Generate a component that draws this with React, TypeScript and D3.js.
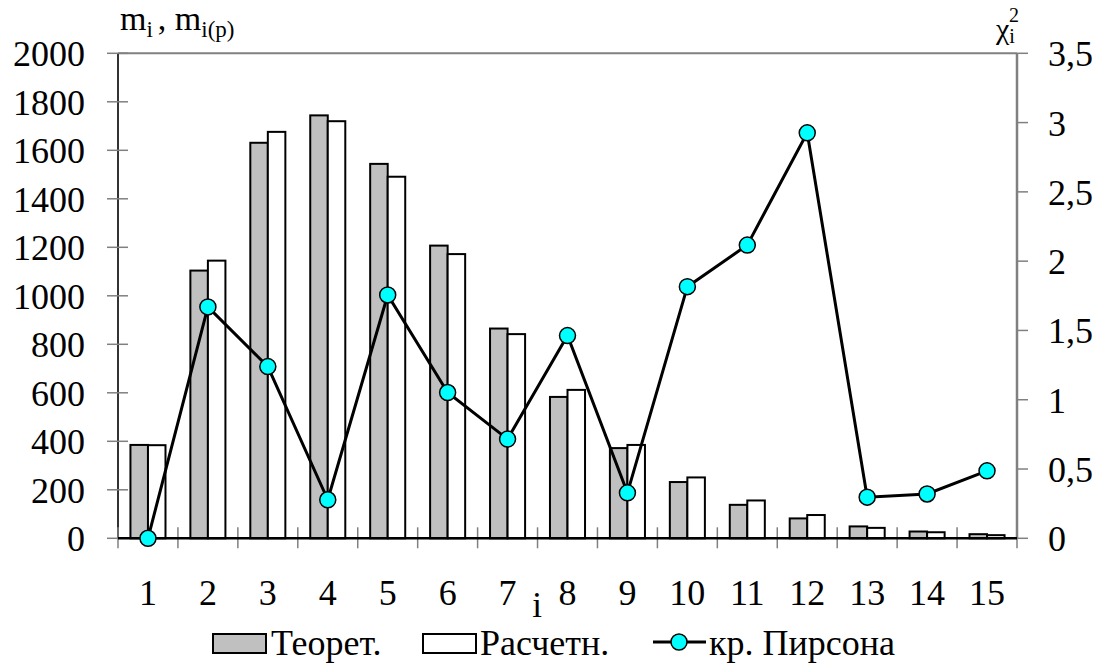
import * as d3 from "d3";

const CATEGORIES = ["1", "2", "3", "4", "5", "6", "7", "8", "9", "10", "11", "12", "13", "14", "15"];
const THEORET = [385, 1104, 1631, 1744, 1544, 1207, 865, 583, 372, 232, 138, 82, 49, 28, 17];
const RASCHET = [384, 1145, 1676, 1720, 1491, 1172, 842, 612, 385, 251, 156, 96, 43, 25, 13];
const PEARSON = [0, 1.67, 1.239, 0.278, 1.756, 1.052, 0.716, 1.463, 0.328, 1.816, 2.116, 2.926, 0.297, 0.32, 0.487];
const LEFT_TICKS = [0, 200, 400, 600, 800, 1000, 1200, 1400, 1600, 1800, 2000];
const RIGHT_TICKS = [0, 0.5, 1, 1.5, 2, 2.5, 3, 3.5];

const W = 1106, H = 668;
const FONT = "Liberation Serif, DejaVu Serif, serif";
const M = { left: 118, right: 1017, top: 53.3, bottom: 538.3 };

export default function App() {
  const x = d3.scaleBand<string>().domain(CATEGORIES).range([M.left, M.right]).padding(0);
  const sub = d3.scaleBand<string>().domain(["t", "r"]).range([0, x.bandwidth()]).paddingInner(0).paddingOuter(0.71);
  const yL = d3.scaleLinear().domain([0, 2000]).range([M.bottom, M.top]);
  const yR = d3.scaleLinear().domain([0, 3.5]).range([M.bottom, M.top]);
  const cx = (c: string) => (x(c) ?? 0) + x.bandwidth() / 2;
  const line = d3.line<number>().x((_d, i) => cx(CATEGORIES[i])).y((d) => yR(d));
  const fmtR = (v: number) => String(v).replace(".", ",");
  const bounds = [...CATEGORIES.map((c) => x(c) ?? 0), M.right];
  const txt = { fontFamily: FONT, fill: "#000" } as const;

  return (
    <svg width={W} height={H} viewBox={`0 0 ${W} ${H}`} style={{ position: "absolute", left: 0, top: 0, background: "#fff", fontFamily: FONT }}>
      {/* frame */}
      <line x1={M.left} x2={M.right} y1={M.top} y2={M.top} stroke="#808080" strokeWidth={2} />
      <line x1={M.right} x2={M.right} y1={M.top} y2={M.bottom} stroke="#808080" strokeWidth={2.5} />
      <line x1={M.left} x2={M.left} y1={M.top} y2={M.bottom} stroke="#333" strokeWidth={2} />

      {/* left axis */}
      {LEFT_TICKS.map((t) => (
        <g key={"l" + t}>
          <line x1={M.left - 11} x2={M.left + 10} y1={yL(t)} y2={yL(t)} stroke="#808080" strokeWidth={1.5} />
          <text x={85} y={yL(t) + 13} textAnchor="end" fontSize={36} style={txt}>{t}</text>
        </g>
      ))}
      {/* right axis */}
      {RIGHT_TICKS.map((t) => (
        <g key={"r" + t}>
          <line x1={M.right} x2={M.right + 11} y1={yR(t)} y2={yR(t)} stroke="#808080" strokeWidth={1.5} />
          <text x={1048} y={yR(t) + 13} textAnchor="start" fontSize={36} style={txt}>{fmtR(t)}</text>
        </g>
      ))}

      {/* bars */}
      {CATEGORIES.map((c, i) => (
        <g key={"b" + c}>
          <rect x={(x(c) ?? 0) + (sub("t") ?? 0)} y={yL(THEORET[i])} width={sub.bandwidth()} height={yL(0) - yL(THEORET[i])} fill="#c0c0c0" stroke="#000" strokeWidth={2} />
          <rect x={(x(c) ?? 0) + (sub("r") ?? 0)} y={yL(RASCHET[i])} width={sub.bandwidth()} height={yL(0) - yL(RASCHET[i])} fill="#fff" stroke="#000" strokeWidth={2} />
        </g>
      ))}

      {/* bottom axis */}
      {bounds.map((b, i) => (
        <line key={"xt" + i} x1={b} x2={b} y1={M.bottom - 11} y2={M.bottom + 10} stroke="#808080" strokeWidth={1.5} />
      ))}
      <line x1={M.left} x2={M.right} y1={M.bottom} y2={M.bottom} stroke="#000" strokeWidth={2.5} />
      {CATEGORIES.map((c) => (
        <text key={"xl" + c} x={cx(c)} y={605} textAnchor="middle" fontSize={36} style={txt}>{c}</text>
      ))}
      <text x={537} y={617} textAnchor="middle" fontSize={35} style={txt}>i</text>

      {/* Pearson line */}
      <path d={line(PEARSON) ?? ""} fill="none" stroke="#000" strokeWidth={3} />
      {PEARSON.map((v, i) => (
        <circle key={"p" + i} cx={cx(CATEGORIES[i])} cy={yR(v)} r={8} fill="#00ffff" stroke="#000" strokeWidth={1.5} />
      ))}

      {/* axis titles */}
      <text x={120} y={30} fontSize={34} style={txt}>
        m<tspan fontSize={23} dy={7}>i</tspan><tspan dx={5} dy={-7}>, m</tspan><tspan fontSize={23} dy={7}>i(p)</tspan>
      </text>
      <text x={996} y={39} fontSize={30} style={txt}>
        χ<tspan fontSize={20} dy={4}>i</tspan><tspan fontSize={20} dx={-6} dy={-21}>2</tspan>
      </text>

      {/* legend */}
      <rect x={213} y={634} width={53} height={19} fill="#c0c0c0" stroke="#000" strokeWidth={2} />
      <text x={271} y={655} fontSize={36} style={txt}>Теорет.</text>
      <rect x={423} y={634} width={53} height={19} fill="#fff" stroke="#000" strokeWidth={2} />
      <text x={480} y={655} fontSize={36} style={txt}>Расчетн.</text>
      <line x1={653} x2={706} y1={642} y2={642} stroke="#000" strokeWidth={3} />
      <circle cx={679} cy={642} r={8} fill="#00ffff" stroke="#000" strokeWidth={1.5} />
      <text x={709} y={655} fontSize={36} style={txt}>кр. Пирсона</text>
    </svg>
  );
}
